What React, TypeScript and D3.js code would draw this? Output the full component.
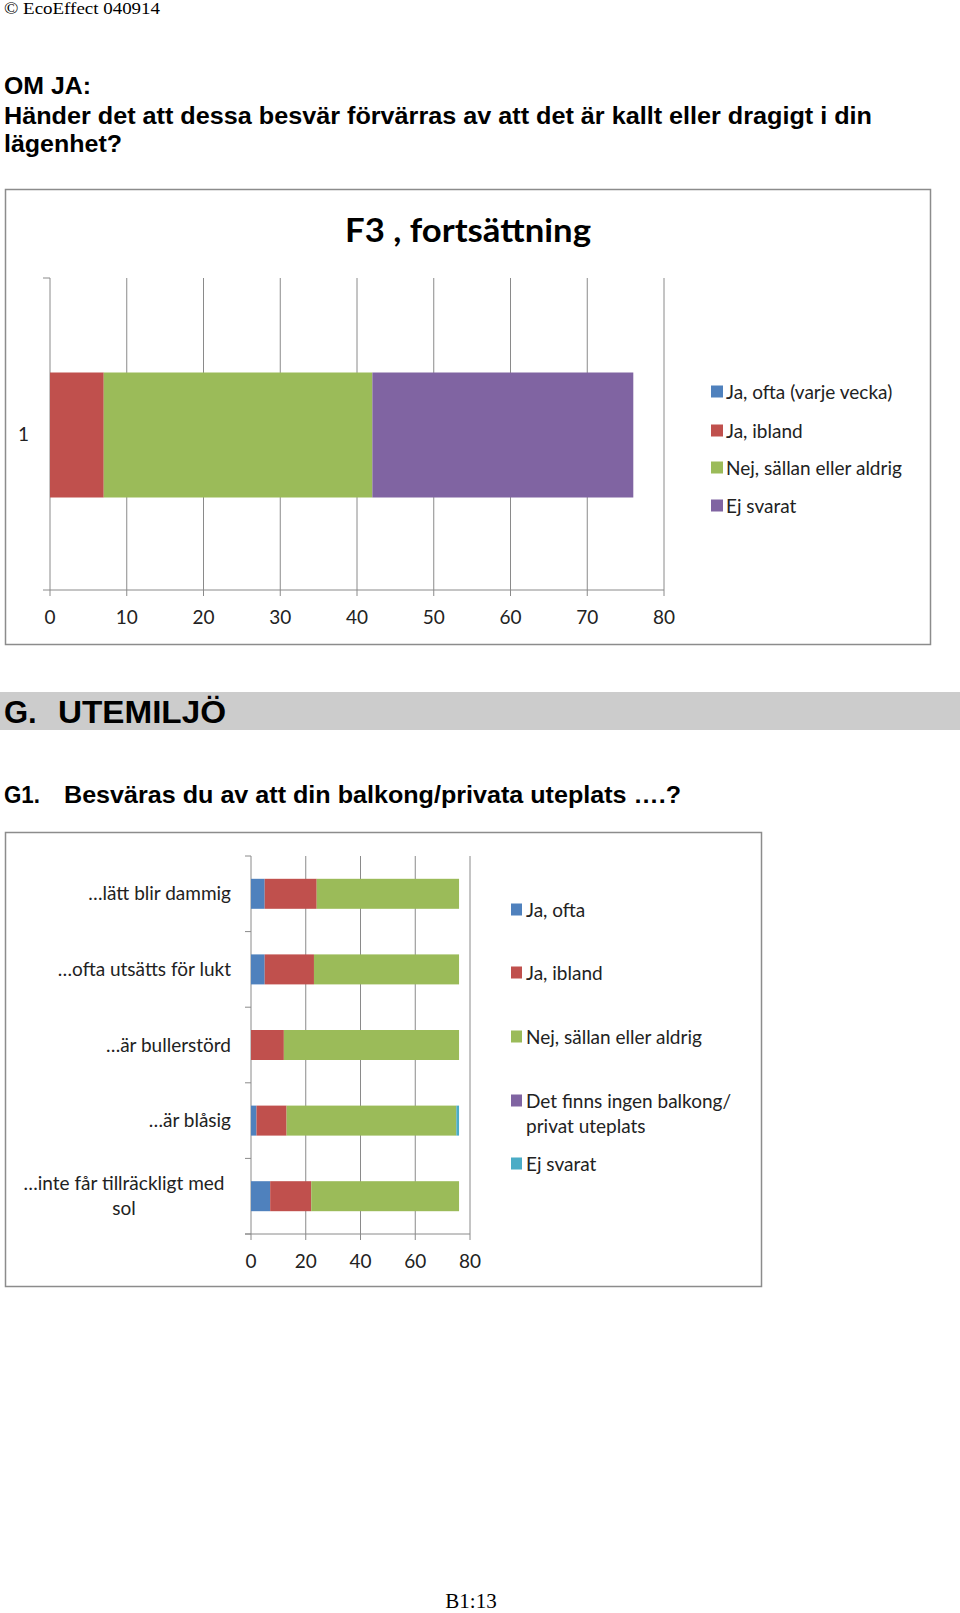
import React from "react";
import * as d3 from "d3";

// ---------- Data ----------
const f3Categories = ["1"];
const f3SeriesNames = ["Ja, ofta (varje vecka)", "Ja, ibland", "Nej, sällan eller aldrig", "Ej svarat"];
const f3JaOfta = [0];
const f3JaIbland = [7];
const f3Nej = [35];
const f3EjSvarat = [34];
const f3Ticks = [0, 10, 20, 30, 40, 50, 60, 70, 80];
const f3Colors = ["#4F81BD", "#C0504D", "#9BBB59", "#8064A2"];

const g1Categories = [
  "…lätt blir dammig",
  "…ofta utsätts för lukt",
  "…är bullerstörd",
  "…är blåsig",
  "…inte får tillräckligt med sol",
];
const g1CategoryLines = [
  ["…lätt blir dammig"],
  ["…ofta utsätts för lukt"],
  ["…är bullerstörd"],
  ["…är blåsig"],
  ["…inte får tillräckligt med", "sol"],
];
const g1SeriesNames = ["Ja, ofta", "Ja, ibland", "Nej, sällan eller aldrig", "Det finns ingen balkong/ privat uteplats", "Ej svarat"];
const g1LegendLines = [["Ja, ofta"], ["Ja, ibland"], ["Nej, sällan eller aldrig"], ["Det finns ingen balkong/", "privat uteplats"], ["Ej svarat"]];
const g1JaOfta = [5, 5, 0, 2, 7];
const g1JaIbland = [19, 18, 12, 11, 15];
const g1Nej = [52, 53, 64, 62, 54];
const g1Ingen = [0, 0, 0, 0, 0];
const g1EjSvarat = [0, 0, 0, 1, 0];
const g1Ticks = [0, 20, 40, 60, 80];
const g1Colors = ["#4F81BD", "#C0504D", "#9BBB59", "#8064A2", "#4BACC6"];

const CAL = "Lato, 'Open Sans', sans-serif";
const HEAD = "'Liberation Sans Narrow', 'Liberation Sans', Arial, sans-serif";
const GRID = "#8a8a8a";
const FS = 19;

function buildRows(cats: string[], series: number[][], names: string[]) {
  return cats.map((c, i) => {
    const row: any = { cat: c };
    names.forEach((n, j) => (row[n] = series[j][i]));
    return row;
  });
}

function F3Chart() {
  const x = d3.scaleLinear().domain([0, 80]).range([50, 664]);
  const y = d3.scaleBand().domain(f3Categories).range([278, 590]).paddingInner(0).paddingOuter(0);
  const rows = buildRows(f3Categories, [f3JaOfta, f3JaIbland, f3Nej, f3EjSvarat], f3SeriesNames);
  const stacked = d3.stack<any>().keys(f3SeriesNames)(rows);
  const barH = 125;
  const legendY = [392, 431, 468, 506];
  return (
    <g>
      <rect x={5.5} y={189.5} width={925} height={455} fill="#fff" stroke="#8c8c8c" strokeWidth={1.5} />
      <text x={468} y={242} textAnchor="middle" fontFamily={CAL} fontWeight="bold" fontSize={32} fill="#000" textLength={246} lengthAdjust="spacingAndGlyphs">
        F3 , fortsättning
      </text>
      {f3Ticks.slice(1).map((t) => (
        <line key={t} x1={x(t)} x2={x(t)} y1={278} y2={596} stroke={GRID} strokeWidth={1} />
      ))}
      <line x1={x(0)} x2={x(0)} y1={278} y2={596} stroke={GRID} strokeWidth={1} />
      <line x1={43} x2={x(80)} y1={590} y2={590} stroke={GRID} strokeWidth={1} />
      <line x1={43} x2={x(0)} y1={278} y2={278} stroke={GRID} strokeWidth={1} />
      {stacked.map((s, si) =>
        s.map((d, di) => {
          const cy = (y(f3Categories[di]) as number) + y.bandwidth() / 2;
          return d[1] - d[0] > 0 ? (
            <rect key={si + "-" + di} x={x(d[0])} y={cy - barH / 2 + 1} width={x(d[1]) - x(d[0])} height={barH} fill={f3Colors[si]} />
          ) : null;
        })
      )}
      {f3Ticks.map((t) => (
        <text key={t} x={x(t)} y={624} textAnchor="middle" fontFamily={CAL} fontSize={FS} fill="#222">
          {t}
        </text>
      ))}
      {f3Categories.map((c) => (
        <text key={c} x={29} y={(y(c) as number) + y.bandwidth() / 2 + 7} textAnchor="end" fontFamily={CAL} fontSize={FS} fill="#222">
          {c}
        </text>
      ))}
      {f3SeriesNames.map((n, i) => (
        <g key={n}>
          <rect x={711} y={legendY[i] - 6.5} width={12} height={12} fill={f3Colors[i]} />
          <text x={726} y={legendY[i] + 6.5} fontFamily={CAL} fontSize={FS} fill="#222">
            {n}
          </text>
        </g>
      ))}
    </g>
  );
}

function G1Chart() {
  const x = d3.scaleLinear().domain([0, 80]).range([251, 470]);
  const y = d3.scaleBand().domain(g1Categories).range([856, 1234]).paddingInner(0).paddingOuter(0);
  const rows = buildRows(g1Categories, [g1JaOfta, g1JaIbland, g1Nej, g1Ingen, g1EjSvarat], g1SeriesNames);
  const stacked = d3.stack<any>().keys(g1SeriesNames)(rows);
  const barH = 30;
  const legendY = [910, 973, 1037, 1101, 1164];
  const boundaries = g1Categories.map((c) => y(c) as number).concat([1234]);
  return (
    <g>
      <rect x={5.5} y={832.5} width={756} height={454} fill="#fff" stroke="#8c8c8c" strokeWidth={1.5} />
      {g1Ticks.slice(1).map((t) => (
        <line key={t} x1={x(t)} x2={x(t)} y1={856} y2={1240} stroke={GRID} strokeWidth={1} />
      ))}
      <line x1={x(0)} x2={x(0)} y1={856} y2={1240} stroke={GRID} strokeWidth={1} />
      <line x1={245} x2={x(80)} y1={1234} y2={1234} stroke={GRID} strokeWidth={1} />
      {boundaries.map((b, i) => (
        <line key={i} x1={245} x2={251} y1={b} y2={b} stroke={GRID} strokeWidth={1} />
      ))}
      {stacked.map((s, si) =>
        s.map((d, di) => {
          const cy = (y(g1Categories[di]) as number) + y.bandwidth() / 2;
          return d[1] - d[0] > 0 ? (
            <rect key={si + "-" + di} x={x(d[0])} y={cy - barH / 2} width={x(d[1]) - x(d[0])} height={barH} fill={g1Colors[si]} />
          ) : null;
        })
      )}
      {g1Ticks.map((t) => (
        <text key={t} x={x(t)} y={1268} textAnchor="middle" fontFamily={CAL} fontSize={FS} fill="#222">
          {t}
        </text>
      ))}
      {g1Categories.map((c, i) => {
        const lines = g1CategoryLines[i];
        const cy = (y(c) as number) + y.bandwidth() / 2;
        if (lines.length === 1) {
          return (
            <text key={c} x={231} y={cy + 6.5} textAnchor="end" fontFamily={CAL} fontSize={FS} fill="#222">
              {lines[0]}
            </text>
          );
        }
        return (
          <text key={c} x={124} textAnchor="middle" fontFamily={CAL} fontSize={FS} fill="#222">
            {lines.map((l, li) => (
              <tspan key={li} x={124} y={cy - 12.5 + 6.5 + li * 25}>
                {l}
              </tspan>
            ))}
          </text>
        );
      })}
      {g1SeriesNames.map((n, i) => (
        <g key={n}>
          <rect x={511} y={legendY[i] - 6.5} width={11} height={12} fill={g1Colors[i]} />
          <text fontFamily={CAL} fontSize={FS} fill="#222">
            {g1LegendLines[i].map((l, li) => (
              <tspan key={li} x={526} y={legendY[i] + 6.5 + li * 25}>
                {l}
              </tspan>
            ))}
          </text>
        </g>
      ))}
    </g>
  );
}

export default function App() {
  return (
    <div style={{ position: "absolute", left: 0, top: 0, width: 960, height: 1613, background: "#fff" }}>
      <svg width={960} height={1613} viewBox="0 0 960 1613" style={{ display: "block" }}>
        <rect x={0} y={0} width={960} height={1613} fill="#fff" />
        <text x={4} y={14} fontFamily="'Liberation Serif', 'Times New Roman', serif" fontSize={17} fill="#000" textLength={156} lengthAdjust="spacingAndGlyphs">
          © EcoEffect 040914
        </text>
        <text x={4} y={94} fontFamily={HEAD} fontWeight="bold" fontSize={24} fill="#000" textLength={87} lengthAdjust="spacingAndGlyphs">
          OM JA:
        </text>
        <text x={4} y={124} fontFamily={HEAD} fontWeight="bold" fontSize={24} fill="#000" textLength={868} lengthAdjust="spacingAndGlyphs">
          Händer det att dessa besvär förvärras av att det är kallt eller dragigt i din
        </text>
        <text x={4} y={152} fontFamily={HEAD} fontWeight="bold" fontSize={24} fill="#000" textLength={118} lengthAdjust="spacingAndGlyphs">
          lägenhet?
        </text>
        <F3Chart />
        <rect x={0} y={692} width={960} height={38} fill="#cccccc" />
        <text x={4} y={723} fontFamily={HEAD} fontWeight="bold" fontSize={31} fill="#000">
          <tspan x={4}>G.</tspan>
          <tspan x={58} textLength={168} lengthAdjust="spacingAndGlyphs">UTEMILJÖ</tspan>
        </text>
        <text x={4} y={803} fontFamily={HEAD} fontWeight="bold" fontSize={24} fill="#000">
          <tspan x={4} textLength={36} lengthAdjust="spacingAndGlyphs">G1.</tspan>
          <tspan x={64} textLength={617} lengthAdjust="spacingAndGlyphs">Besväras du av att din balkong/privata uteplats ….?</tspan>
        </text>
        <G1Chart />
        <text x={471} y={1608} textAnchor="middle" fontFamily="'Liberation Serif', 'Times New Roman', serif" fontSize={21} fill="#000">
          B1:13
        </text>
      </svg>
    </div>
  );
}
